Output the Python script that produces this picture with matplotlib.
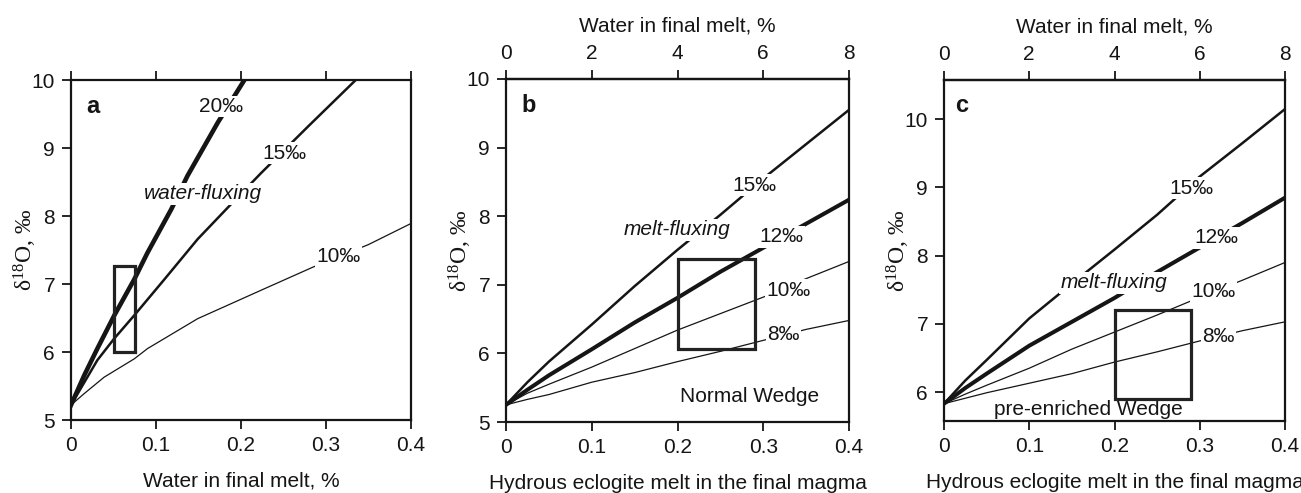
import matplotlib
matplotlib.use('Agg')
import matplotlib.pyplot as plt
from matplotlib.patches import Rectangle

plt.rcParams['font.family'] = ['Liberation Sans', 'DejaVu Sans']

# ---------------- data ----------------
# panel a : x = water in final melt (%)
a_x20 = [0, 0.0157, 0.031, 0.051, 0.0745, 0.090, 0.118, 0.137, 0.1725, 0.204]
a_y20 = [5.22, 5.66, 6.05, 6.54, 7.07, 7.46, 8.10, 8.59, 9.37, 10.0]
a_x15 = [0, 0.031, 0.051, 0.0745, 0.110, 0.149, 0.188, 0.2235, 0.28, 0.335]
a_y15 = [5.22, 5.88, 6.20, 6.54, 7.07, 7.66, 8.17, 8.63, 9.33, 10.0]
a_x10 = [0, 0.0157, 0.039, 0.0745, 0.090, 0.149, 0.2275, 0.285, 0.35, 0.4]
a_y10 = [5.22, 5.39, 5.63, 5.90, 6.05, 6.49, 6.93, 7.25, 7.58, 7.89]
a_box = (0.05, 6.0, 0.0753, 7.27)

# panels b, c : x = hydrous eclogite melt in final magma
bc_x = [0, 0.025, 0.05, 0.1, 0.15, 0.2, 0.25, 0.3, 0.35, 0.4]
b_y15 = [5.25, 5.58, 5.88, 6.42, 6.98, 7.51, 8.02, 8.55, 9.05, 9.55]
b_y12 = [5.25, 5.47, 5.68, 6.06, 6.45, 6.81, 7.19, 7.54, 7.89, 8.24]
b_y10 = [5.25, 5.42, 5.55, 5.80, 6.07, 6.34, 6.58, 6.82, 7.09, 7.34]
b_y8 = [5.25, 5.33, 5.40, 5.58, 5.72, 5.88, 6.03, 6.19, 6.35, 6.48]
b_box = (0.2, 6.07, 0.29, 7.37)

c_y15 = [5.83, 6.17, 6.47, 7.08, 7.59, 8.09, 8.60, 9.16, 9.65, 10.15]
c_y12 = [5.83, 6.06, 6.27, 6.68, 7.03, 7.38, 7.76, 8.12, 8.48, 8.85]
c_y10 = [5.83, 5.97, 6.10, 6.35, 6.63, 6.88, 7.13, 7.39, 7.64, 7.90]
c_y8 = [5.83, 5.91, 5.99, 6.13, 6.27, 6.44, 6.59, 6.75, 6.90, 7.03]
c_box = (0.2, 5.9, 0.29, 7.2)

x_ticks = [0, 0.1, 0.2, 0.3, 0.4]
x_ticklabels = ['0', '0.1', '0.2', '0.3', '0.4']
top_ticks = [0, 2, 4, 6, 8]

FS = 15
W = 1301
H = 493
INK = '#151515'


def rect(l, t, r, b):
    return [l / W, 1 - b / H, (r - l) / W, (b - t) / H]


fig = plt.figure(figsize=(13.01, 4.93), dpi=100)
fig.patch.set_facecolor('white')

ylabel_txt = r'$\mathregular{\delta^{18}}$O, ‰'


def style(ax, ylim, yticks, top_secondary):
    ax.set_xlim(0, 0.4)
    ax.set_ylim(*ylim)
    ax.set_xticks(x_ticks)
    ax.set_xticklabels(x_ticklabels)
    ax.set_yticks(yticks)
    for s in ax.spines.values():
        s.set_linewidth(1.6)
        s.set_color(INK)
    ax.tick_params(direction='out', length=6.5, width=1.3, labelsize=FS, pad=5,
                   colors=INK, right=False, top=not top_secondary, labeltop=False)
    ax.set_ylabel(ylabel_txt, fontsize=FS + 2, family=['Liberation Serif', 'DejaVu Serif'],
                  labelpad=-5, color=INK)
    if top_secondary:
        sec = ax.secondary_xaxis('top', functions=(lambda v: v * 20, lambda v: v / 20))
        sec.set_xticks(top_ticks)
        sec.tick_params(direction='out', length=6.5, width=1.3, labelsize=FS, pad=5,
                        colors=INK)
        sec.spines['top'].set_linewidth(1.6)
        sec.set_xlabel('Water in final melt, %', fontsize=FS, labelpad=9, color=INK)


def lab(ax, x, y, s, **kw):
    ax.text(x, y, s, fontsize=FS, ha='center', va='center', zorder=3, color=INK,
            bbox=dict(facecolor='white', edgecolor='none', pad=1.0), **kw)


def box(ax, b):
    ax.add_patch(Rectangle((b[0], b[1]), b[2] - b[0], b[3] - b[1], fill=False,
                           edgecolor='#222222', linewidth=2.3, zorder=4))


# ---------------- panel a ----------------
axa = fig.add_axes(rect(71, 80, 411, 420))
axa.plot(a_x20, a_y20, color=INK, lw=3.3, zorder=2)
axa.plot(a_x15, a_y15, color=INK, lw=1.8, zorder=2)
axa.plot(a_x10, a_y10, color=INK, lw=0.9, zorder=2)
box(axa, a_box)
style(axa, (5, 10), [5, 6, 7, 8, 9, 10], False)
axa.set_xlabel('Water in final melt, %', fontsize=FS, labelpad=12, color=INK)
axa.text(0.0255, 9.61, 'a', fontsize=FS + 2, fontweight='bold', ha='center', va='center',
         color=INK)
lab(axa, 0.177, 9.61, '20‰')
lab(axa, 0.251, 8.92, '15‰')
lab(axa, 0.3145, 7.40, '10‰')
lab(axa, 0.155, 8.33, 'water-fluxing', style='italic')

# ---------------- panel b ----------------
axb = fig.add_axes(rect(506, 79, 849, 422))
axb.plot(bc_x, b_y15, color=INK, lw=1.8, zorder=2)
axb.plot(bc_x, b_y12, color=INK, lw=2.9, zorder=2)
axb.plot(bc_x, b_y10, color=INK, lw=0.9, zorder=2)
axb.plot(bc_x, b_y8, color=INK, lw=0.9, zorder=2)
box(axb, b_box)
style(axb, (5, 10), [5, 6, 7, 8, 9, 10], True)
axb.set_xlabel('Hydrous eclogite melt in the final magma', fontsize=FS, labelpad=12, color=INK)
axb.text(0.026, 9.62, 'b', fontsize=FS + 2, fontweight='bold', ha='center', va='center',
         color=INK)
lab(axb, 0.290, 8.45, '15‰')
lab(axb, 0.3215, 7.70, '12‰')
lab(axb, 0.329, 6.92, '10‰')
lab(axb, 0.3235, 6.27, '8‰')
lab(axb, 0.199, 7.80, 'melt-fluxing', style='italic')
axb.text(0.2845, 5.37, 'Normal Wedge', fontsize=FS, ha='center', va='center', color=INK)

# ---------------- panel c ----------------
axc = fig.add_axes(rect(944, 80, 1285, 421))
axc.plot(bc_x, c_y15, color=INK, lw=1.8, zorder=2)
axc.plot(bc_x, c_y12, color=INK, lw=2.9, zorder=2)
axc.plot(bc_x, c_y10, color=INK, lw=0.9, zorder=2)
axc.plot(bc_x, c_y8, color=INK, lw=0.9, zorder=2)
box(axc, c_box)
style(axc, (5.576, 10.576), [6, 7, 8, 9, 10], True)
axc.set_xlabel('Hydrous eclogite melt in the final magma', fontsize=FS, labelpad=12, color=INK)
axc.text(0.021, 10.2, 'c', fontsize=FS + 2, fontweight='bold', ha='center', va='center',
         color=INK)
lab(axc, 0.2905, 8.99, '15‰')
lab(axc, 0.320, 8.26, '12‰')
lab(axc, 0.316, 7.47, '10‰')
lab(axc, 0.322, 6.82, '8‰')
lab(axc, 0.1995, 7.60, 'melt-fluxing', style='italic')
axc.text(0.169, 5.74, 'pre-enriched Wedge', fontsize=FS, ha='center', va='center', color=INK)

fig.savefig('out.png', dpi=100, facecolor='white')
